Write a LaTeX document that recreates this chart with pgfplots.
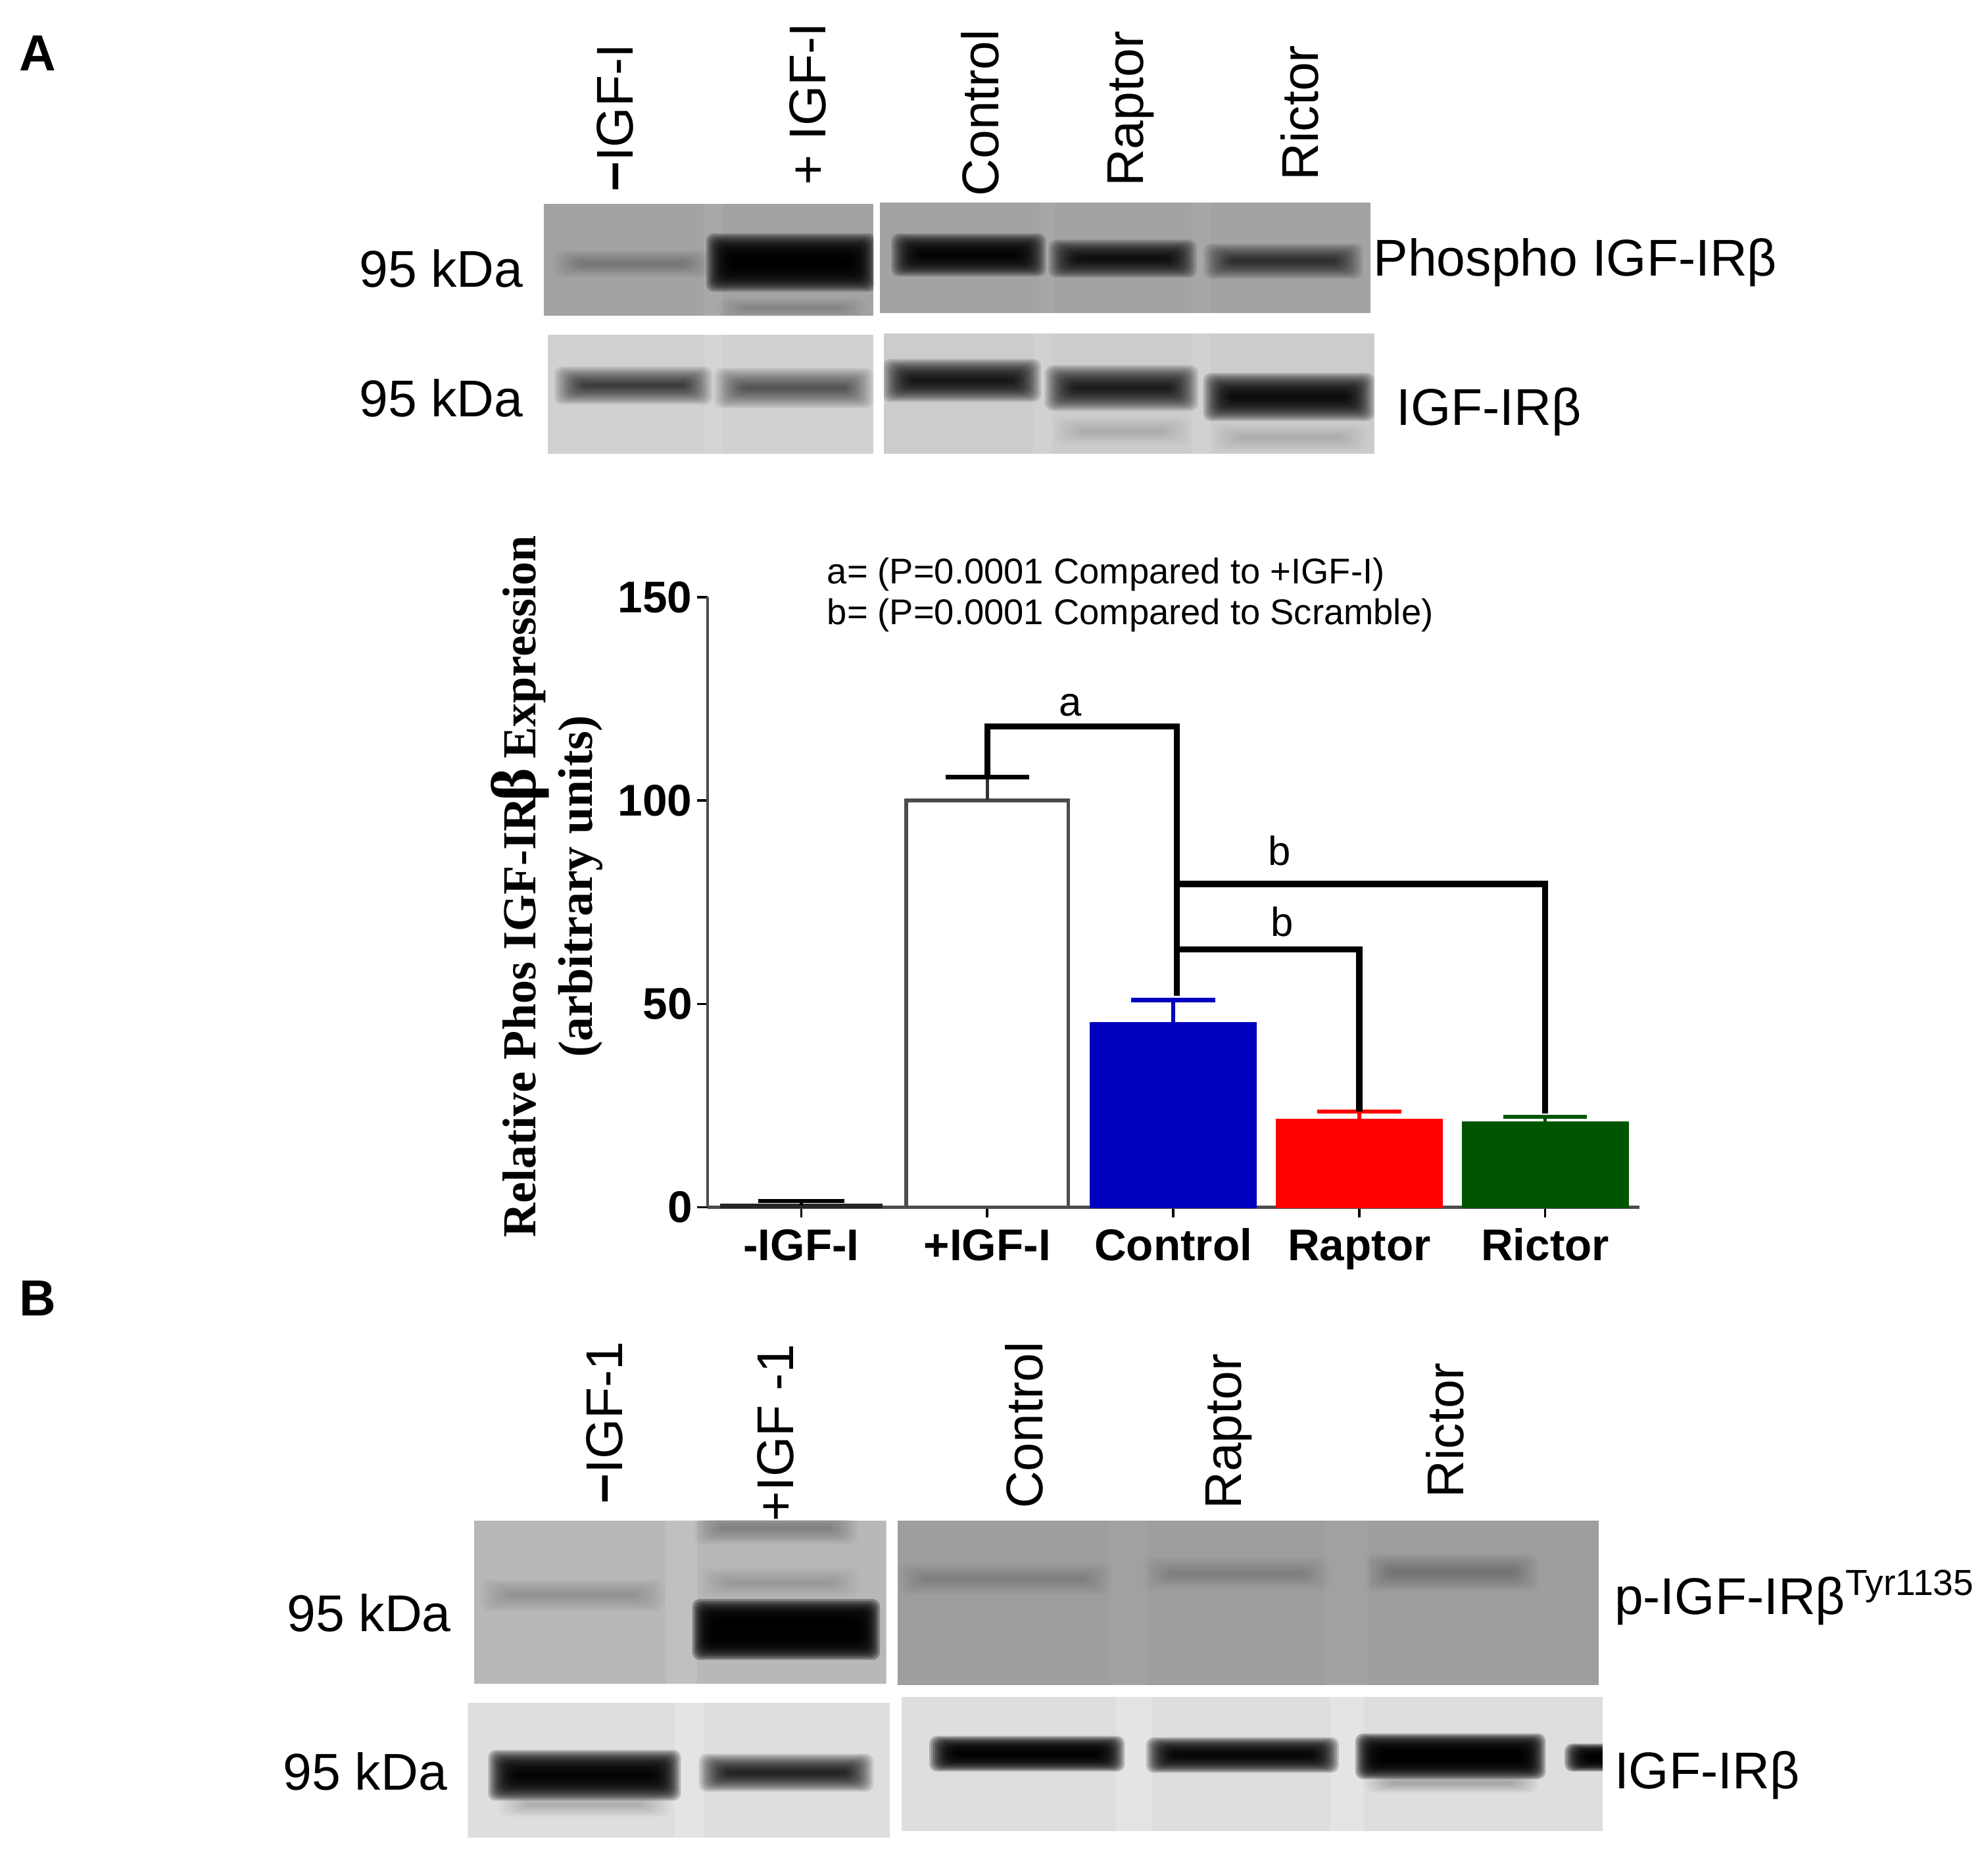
\documentclass[border=0pt]{standalone}
\usepackage{fontspec}
\usepackage{pgfplots}
\pgfplotsset{compat=1.18}
\setmainfont{Liberation Sans}
\newfontfamily\tms{Liberation Serif}
\definecolor{cblue}{RGB}{0,0,190}
\definecolor{cred}{RGB}{255,0,0}
\definecolor{cgreen}{RGB}{0,85,0}
\definecolor{axgray}{gray}{0.3}
\newcommand\band[5]{\foreach \i in {0,...,15}{\fill[black,fill opacity=#5,rounded corners=3pt] ({#1-9+\i*1.5},{#3-(#4/2)*(1-\i/16)}) rectangle ({#2+9-\i*1.5},{#3+(#4/2)*(1-\i/16)});}}
\newcommand\lane[5]{\fill[white,fill opacity=#5] (#1,#3) rectangle (#2,#4);}
\newcommand\panel[6]{\begin{scope}\clip (#1,#2) rectangle (#3,#4);\fill[black!#5!white] (#1,#2) rectangle (#3,#4);#6\end{scope}}
\newcommand\lab[4][]{\node[font=\fontsize{20.4}{22}\selectfont,inner sep=0pt,#1] at (#2,#3) {#4};}
\begin{document}
\begin{tikzpicture}[x=0.5pt,y=-0.5pt]
\path[use as bounding box] (0,0) rectangle (1568,1468);
% blots, panel A
\panel{429}{161}{689}{249}{36}{\lane{555}{570}{161}{249}{.06}\band{445}{552}{208}{22}{.015}\band{566}{682}{207}{46}{.24}\band{575}{675}{243}{16}{.012}}
\panel{694}{160}{1081}{247}{36}{\lane{820}{832}{160}{247}{.05}\lane{940}{955}{160}{247}{.05}\band{712}{816}{201}{34}{.18}\band{836}{935}{204}{30}{.13}\band{958}{1066}{206}{28}{.07}}
\panel{432}{264}{689}{358}{18}{\lane{556}{570}{264}{358}{.1}\band{446}{553}{304}{30}{.07}\band{572}{680}{306}{32}{.05}}
\panel{697}{263}{1084}{358}{20}{\lane{815}{830}{263}{358}{.1}\lane{940}{955}{263}{358}{.1}\band{705}{812}{300}{34}{.12}\band{833}{936}{306}{36}{.11}\band{958}{1075}{313}{38}{.15}\band{840}{930}{340}{22}{.008}\band{965}{1070}{345}{22}{.008}}
% blots, panel B
\panel{374}{1199}{699}{1328}{28}{\lane{525}{550}{1199}{1328}{.12}\band{388}{515}{1258}{26}{.012}\band{555}{685}{1285}{48}{.3}\band{556}{668}{1205}{26}{.02}\band{560}{670}{1248}{24}{.008}}
\panel{708}{1199}{1261}{1329}{38}{\lane{875}{905}{1199}{1329}{.03}\lane{1045}{1080}{1199}{1329}{.03}\band{716}{868}{1245}{26}{.012}\band{910}{1040}{1241}{26}{.012}\band{1085}{1205}{1240}{30}{.016}}
\panel{369}{1343}{702}{1449}{13}{\lane{532}{555}{1343}{1449}{.2}\band{394}{528}{1400}{40}{.2}\band{560}{680}{1398}{30}{.1}\band{402}{520}{1423}{20}{.012}}
\panel{711}{1338}{1264}{1444}{13}{\lane{880}{908}{1338}{1444}{.2}\lane{1050}{1075}{1338}{1444}{.2}\band{742}{878}{1383}{28}{.22}\band{913}{1047}{1384}{28}{.18}\band{1078}{1210}{1385}{36}{.26}\band{1243}{1280}{1386}{22}{.25}\band{1085}{1205}{1406}{16}{.015}}
% panel letters
\node[font=\fontsize{20}{22}\selectfont\bfseries,inner sep=0pt] at (30,42) {A};
\node[font=\fontsize{20}{22}\selectfont\bfseries,inner sep=0pt] at (30,1024) {B};
% lane labels A
\lab[rotate=90]{485}{93}{\textbf{−}IGF-I}
\lab[rotate=90]{637}{82}{+ IGF-I}
\lab[rotate=90]{773}{89}{Control}
\lab[rotate=90]{892}{86}{Raptor}
\lab[rotate=90]{1025}{89}{Rictor}
\lab{348}{212}{95 kDa}
\lab{348}{314}{95 kDa}
\lab[anchor=west]{1083}{207}{Phospho IGF-IRβ}
\lab[anchor=west]{1101}{325}{IGF-IRβ}
% lane labels B
\lab[rotate=90]{477}{1122}{\textbf{−}IGF-1}
\lab[rotate=90]{612}{1130}{+IGF -1}
\lab[rotate=90]{808}{1124}{Control}
\lab[rotate=90]{969}{1129}{Raptor}
\lab[rotate=90]{1140}{1128}{Rictor}
\lab{291}{1272}{95 kDa}
\lab{288}{1397}{95 kDa}
\lab[anchor=west]{1273}{1260}{p-IGF-IRβ\textsuperscript{Tyr1135}}
\lab[anchor=west]{1273}{1400}{IGF-IRβ}
% bar chart
\begin{axis}[
  at={(279pt,-476pt)},anchor=south west,
  scale only axis,width=367.5pt,height=240.5pt,
  xmin=-0.504,xmax=4.506,ymin=0,ymax=150,
  axis lines*=left,
  axis line style={axgray,line width=1.1pt,-},
  xtick={0,1,2,3,4},
  xticklabels={-IGF-I,+IGF-I,Control,Raptor,Rictor},
  ytick={0,50,100,150},
  tick align=outside,major tick length=4pt,
  tick style={black,line width=0.9pt},
  /pgf/number format/assume math mode=true,
  ticklabel style={font=\fontsize{17.5}{20}\selectfont\bfseries},
  xticklabel style={text height=13pt,text depth=4pt,yshift=-0.5pt},
  yticklabel style={xshift=1.5pt},
  clip=false,
  error bars/y dir=plus,error bars/y explicit,
  ybar,bar shift=0pt,bar width=65pt,
]
\addplot[draw=black!85,fill=black!85,line width=1pt,bar width=63pt,
  error bars/error bar style={black,line width=1.4pt},
  error bars/error mark options={black,mark size=17pt,line width=1.6pt,rotate=90}]
  coordinates {(0,0.6) +- (0,0.9)};
\addplot[draw=axgray,fill=white,line width=1.4pt,bar width=64pt,
  error bars/error bar style={black!80,line width=1.4pt},
  error bars/error mark options={black,mark size=16.5pt,line width=1.8pt,rotate=90}]
  coordinates {(1,100) +- (0,5.7)};
\addplot[draw=cblue,fill=cblue,line width=0.8pt,
  error bars/error bar style={cblue,line width=1.4pt},
  error bars/error mark options={cblue,mark size=16.5pt,line width=1.7pt,rotate=90}]
  coordinates {(2,45.3) +- (0,5.6)};
\addplot[draw=cred,fill=cred,line width=0.8pt,
  error bars/error bar style={cred,line width=1.4pt},
  error bars/error mark options={cred,mark size=16.5pt,line width=1.7pt,rotate=90}]
  coordinates {(3,21.5) +- (0,2.0)};
\addplot[draw=cgreen,fill=cgreen,line width=0.8pt,
  error bars/error bar style={cgreen,line width=1.4pt},
  error bars/error mark options={cgreen,mark size=16.5pt,line width=1.7pt,rotate=90}]
  coordinates {(4,20.8) +- (0,1.4)};
% significance brackets
\addplot[sharp plot,black,line width=2.4pt,no marks,line join=miter] coordinates {(1,106)(1,118.2)(2.02,118.2)(2.02,52)};
\addplot[sharp plot,black,line width=2.4pt,no marks,line join=miter] coordinates {(2.02,79.5)(4,79.5)(4,23)};
\addplot[sharp plot,black,line width=2.4pt,no marks,line join=miter] coordinates {(2.02,63.4)(3,63.4)(3,23.5)};
\end{axis}
% axis titles and annotations
\node[rotate=90,inner sep=0pt,font=\tms\fontsize{18.7}{20}\selectfont\bfseries] at (410,699) {Relative Phos IGF-IR\kern-1.5pt{\fontsize{25}{25}\selectfont β}\kern-1pt\ Expression};
\node[rotate=90,inner sep=0pt,font=\tms\fontsize{19.2}{20}\selectfont\bfseries] at (458,699) {(arbitrary units)};
\node[anchor=west,inner sep=0pt,font=\fontsize{14.1}{16}\selectfont] at (652,453) {a= (P=0.0001 Compared to +IGF-I)};
\node[anchor=west,inner sep=0pt,font=\fontsize{14.1}{16}\selectfont] at (652,485) {b= (P=0.0001 Compared to Scramble)};
\node[inner sep=0pt,font=\fontsize{16}{18}\selectfont] at (844,556) {a};
\node[inner sep=0pt,font=\fontsize{16}{18}\selectfont] at (1009,671) {b};
\node[inner sep=0pt,font=\fontsize{16}{18}\selectfont] at (1011,727) {b};
\end{tikzpicture}
\end{document}
